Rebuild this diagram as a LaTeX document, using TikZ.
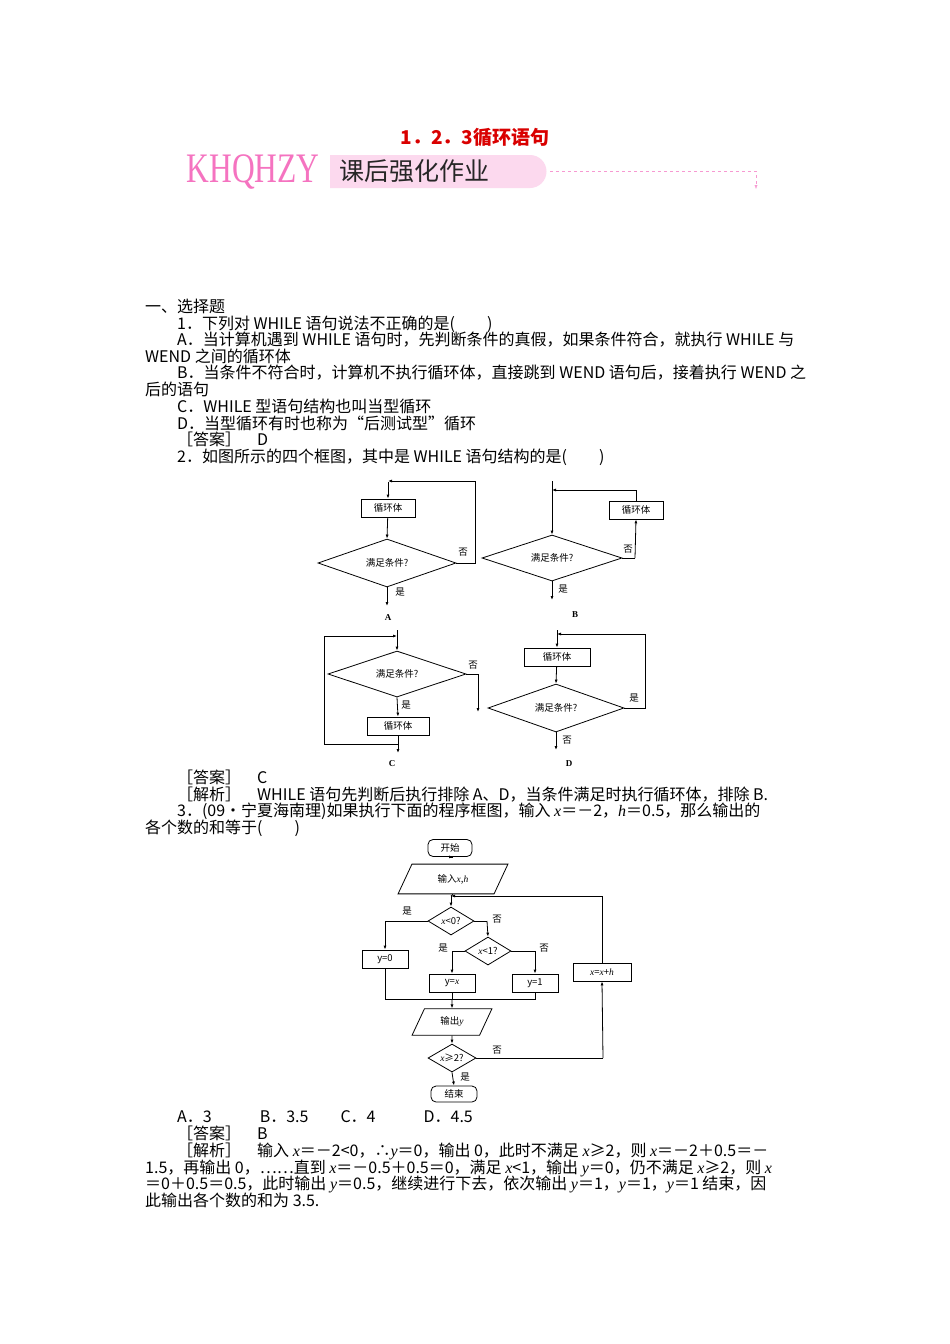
\documentclass[tikz,border=0pt]{standalone}
\usepackage{fontspec}
\setmainfont{Noto Sans CJK SC}
\newfontfamily\serifl{Liberation Serif}
\newcommand{\vi}[1]{{\serifl\itshape #1}}
\usetikzlibrary{shapes.geometric,arrows.meta}
\begin{document}
\begin{tikzpicture}[x=1pt,y=-1pt,
  tl/.style={anchor=base west,inner sep=0,font=\fontsize{16}{16}\selectfont},
  fb/.style={draw,line width=0.8pt,minimum height=18,inner sep=1,font=\fontsize{9.5}{9.5}\selectfont},
  fd/.style={draw,line width=0.8pt,diamond,aspect=2.9,inner sep=0,font=\fontsize{9.5}{9.5}\selectfont},
  fl/.style={font=\fontsize{9.5}{9.5}\selectfont,inner sep=0},
  ar/.style={line width=0.8pt,-{Latex[length=4,width=3]}},
  ln/.style={line width=0.8pt},
  pg/.style={draw,line width=0.8pt,trapezium,trapezium left angle=65,trapezium right angle=115,inner sep=1,font=\fontsize{9.5}{9.5}\selectfont}]
\useasboundingbox (0,0) rectangle (950,1344);
\fill[white] (0,0) rectangle (950,1344);
% header
\node[text=red!85!black,font=\fontsize{19}{19}\selectfont\bfseries] (ttl) at (475,137) {1．2．3循环语句};
\node[text=magenta!55!white,font=\fontsize{42}{42}\serifl,xscale=0.75,anchor=west] (kh) at (184,172) {KHQHZY};
\fill[magenta!15] (330,155) -- (530,155) arc (-90:90:16.5) -- (330,188) -- cycle;
\node[font=\fontsize{25}{25}\selectfont,anchor=west,text=black!85] (kh2) at (336,171) {课后强化作业};
\coordinate (d1) at (550,171); \coordinate (d2) at (756,171); \coordinate (d3) at (756,189);
\draw[magenta!40,dashed,-{Latex[length=4,width=3]}] (d1) -- (d2) -- (d3);
% text
\node[tl] (t1) at (145,312) {一、选择题};
\node[tl] (t2) at (177,329) {1．下列对 WHILE 语句说法不正确的是(　　)};
\node[tl] (t3) at (177,345) {A．当计算机遇到 WHILE 语句时，先判断条件的真假，如果条件符合，就执行 WHILE 与};
\node[tl] (t4) at (145,362) {WEND 之间的循环体};
\node[tl] (t5) at (177,378) {B．当条件不符合时，计算机不执行循环体，直接跳到 WEND 语句后，接着执行 WEND 之};
\node[tl] (t6) at (145,395) {后的语句};
\node[tl] (t7) at (177,412) {C．WHILE 型语句结构也叫当型循环};
\node[tl] (t8) at (177,429) {D．当型循环有时也称为“后测试型”循环};
\node[tl] (t9) at (177,445) {［答案］　D};
\node[tl] (t10) at (177,462) {2．如图所示的四个框图，其中是 WHILE 语句结构的是(　　)};
\node[tl] (t11) at (177,783) {［答案］　C};
\node[tl] (t12) at (177,800) {［解析］　WHILE 语句先判断后执行排除 A、D，当条件满足时执行循环体，排除 B.};
\node[tl] (t13) at (177,816) {3．(09·宁夏海南理)如果执行下面的程序框图，输入 \vi{x}＝－2，\vi{h}＝0.5，那么输出的};
\node[tl] (t14) at (145,833) {各个数的和等于(　　)};
\node[tl] (t15) at (177,1122) {A．3　　　B．3.5　　C．4　　　D．4.5};
\node[tl] (t16) at (177,1139) {［答案］　B};
\node[tl] (t17) at (177,1156) {［解析］　输入 \vi{x}＝－2<0，∴\vi{y}＝0，输出 0，此时不满足 \vi{x}≥2，则 \vi{x}＝－2＋0.5＝－};
\node[tl] (t18) at (145,1173) {1.5，再输出 0，……直到 \vi{x}＝－0.5＋0.5＝0，满足 \vi{x}<1，输出 \vi{y}＝0，仍不满足 \vi{x}≥2，则 \vi{x}};
\node[tl] (t19) at (145,1189) {＝0＋0.5＝0.5，此时输出 \vi{y}＝0.5，继续进行下去，依次输出 \vi{y}＝1，\vi{y}＝1，\vi{y}＝1 结束，因};
\node[tl] (t20) at (145,1206) {此输出各个数的和为 3.5.};
% chart A
\node[fb,minimum width=54] (ab) at (388,508) {循环体};
\node[fd,minimum width=138,minimum height=48] (ad) at (387,563) {满足条件?};
\coordinate (a0) at (388,482); \coordinate (a1) at (475,563); \coordinate (a2) at (475,481);
\coordinate (a3) at (388,481); \coordinate (a4) at (387,606);
\draw[ar] (a0) -- (ab); \draw[ar] (ab) -- (ad.north);
\draw[ln] (ad.east) -- (a1) -- (a2); \draw[ar] (a2) -- (a3);
\draw[ar] (ad.south) -- (a4);
\node[fl] (an) at (463,552) {否}; \node[fl] (ay) at (400,592) {是};
\node[fl,font=\fontsize{9}{9}\serifl\bfseries] (al) at (388,618) {A};
% chart B
\node[fd,minimum width=140,minimum height=46] (bd) at (552,558) {满足条件?};
\node[fb,minimum width=54] (bb) at (636,510) {循环体};
\coordinate (b0) at (552,481); \coordinate (b1) at (635,558); \coordinate (b2) at (636,490);
\coordinate (b3) at (552,490); \coordinate (b4) at (552,600);
\draw[ar] (b0) -- (bd.north);
\draw[ln] (bd.east) -- (b1); \draw[ar] (b1) -- (bb.south);
\draw[ln] (bb.north) -- (b2); \draw[ar] (b2) -- (b3);
\draw[ar] (bd.south) -- (b4);
\node[fl] (bn) at (628,549) {否}; \node[fl] (by) at (563,589) {是};
\node[fl,font=\fontsize{9}{9}\serifl\bfseries] (bl) at (575,615) {B};
% chart C
\node[fd,minimum width=138,minimum height=46] (cd) at (397,674) {满足条件?};
\node[fb,minimum width=62] (cb) at (398,726) {循环体};
\coordinate (c0) at (397,630); \coordinate (c1) at (478,674); \coordinate (c2) at (478,712);
\coordinate (c3) at (398,753); \coordinate (c4) at (398,744); \coordinate (c5) at (324,744);
\coordinate (c6) at (324,636); \coordinate (c7) at (397,636);
\draw[ar] (c0) -- (cd.north);
\draw[ln] (cd.east) -- (c1); \draw[ar] (c1) -- (c2);
\draw[ar] (cd.south) -- (cb.north);
\draw[ar] (cb.south) -- (c3);
\draw[ln] (c4) -- (c5) -- (c6); \draw[ar] (c6) -- (c7);
\node[fl] (cn) at (473,665) {否}; \node[fl] (cy) at (406,705) {是};
\node[fl,font=\fontsize{9}{9}\serifl\bfseries] (cl) at (392,764) {C};
% chart D
\node[fb,minimum width=66] (db) at (557,657) {循环体};
\node[fd,minimum width=136,minimum height=48] (dd) at (556,708) {满足条件?};
\coordinate (d0) at (557,630); \coordinate (dd1) at (645,708); \coordinate (dd2) at (645,634);
\coordinate (dd3) at (557,634); \coordinate (dd4) at (556,750);
\draw[ar] (d0) -- (db); \draw[ar] (db) -- (dd.north);
\draw[ln] (dd.east) -- (dd1) -- (dd2); \draw[ar] (dd2) -- (dd3);
\draw[ar] (dd.south) -- (dd4);
\node[fl] (dy) at (634,698) {是}; \node[fl] (dn) at (567,740) {否};
\node[fl,font=\fontsize{9}{9}\serifl\bfseries] (dl) at (569,764) {D};
% chart 3
\node[fb,rounded corners=5,minimum width=44,minimum height=17] (s) at (450,848) {开始};
\node[pg,minimum width=110,minimum height=22] (in) at (453,879) {输入\vi{x},\vi{h}};
\node[fd,minimum width=46,minimum height=28,aspect=1.6] (q1) at (451,921) {\vi{x}<0?};
\node[fd,minimum width=46,minimum height=28,aspect=1.6] (q2) at (488,951) {\vi{x}<1?};
\node[fb,minimum width=46,minimum height=18] (y0) at (385,959) {y=0};
\node[fb,minimum width=46,minimum height=18] (yx) at (452,983) {y=\vi{x}};
\node[fb,minimum width=46,minimum height=18] (y1) at (535,983) {y=1};
\node[pg,minimum width=80,minimum height=20] (out) at (452,1022) {输出\vi{y}};
\node[fd,minimum width=48,minimum height=28,aspect=1.6] (q3) at (452,1058) {\vi{x}≥2?};
\node[fb,minimum width=58,minimum height=18] (inc) at (602,972) {\vi{x}=\vi{x}+\vi{h}};
\node[fb,rounded corners=5,minimum width=46,minimum height=16] (e) at (454,1094) {结束};
\coordinate (j1) at (451,896); \coordinate (j2) at (602,896);
\coordinate (p1) at (385,921); \coordinate (p2) at (487,921);
\coordinate (p3) at (452,951); \coordinate (p4) at (535,951);
\coordinate (m1) at (385,999); \coordinate (m2) at (535,999); \coordinate (m3) at (452,999);
\coordinate (r1) at (603,1058);
\draw[ar] (s) -- (in.south |- s.south) ;
\draw[ln] (in.south) -- (j1); \draw[ar] (j1) -- (q1.north);
\draw[ln] (q1.west) -- (p1); \draw[ar] (p1) -- (y0.north);
\draw[ln] (q1.east) -- (p2); \draw[ar] (p2) -- (q2.north);
\draw[ln] (q2.west) -- (p3); \draw[ar] (p3) -- (yx.north);
\draw[ln] (q2.east) -- (p4); \draw[ar] (p4) -- (y1.north);
\draw[ln] (y0.south) -- (m1) -- (m2) -- (y1.south);
\draw[ln] (yx.south) -- (m3); \draw[ar] (m3) -- (out.north);
\draw[ar] (out.south) -- (q3.north);
\draw[ln] (q3.east) -- (r1); \draw[ar] (r1) -- (inc.south);
\draw[ln] (inc.north) -- (j2); \draw[ar] (j2) -- (j1);
\draw[ar] (q3.south) -- (e.north);
\node[fl] (l1) at (407,911) {是}; \node[fl] (l2) at (497,919) {否};
\node[fl] (l3) at (443,948) {是}; \node[fl] (l4) at (544,948) {否};
\node[fl] (l5) at (497,1050) {否}; \node[fl] (l6) at (465,1077) {是};
\end{tikzpicture}
\end{document}
